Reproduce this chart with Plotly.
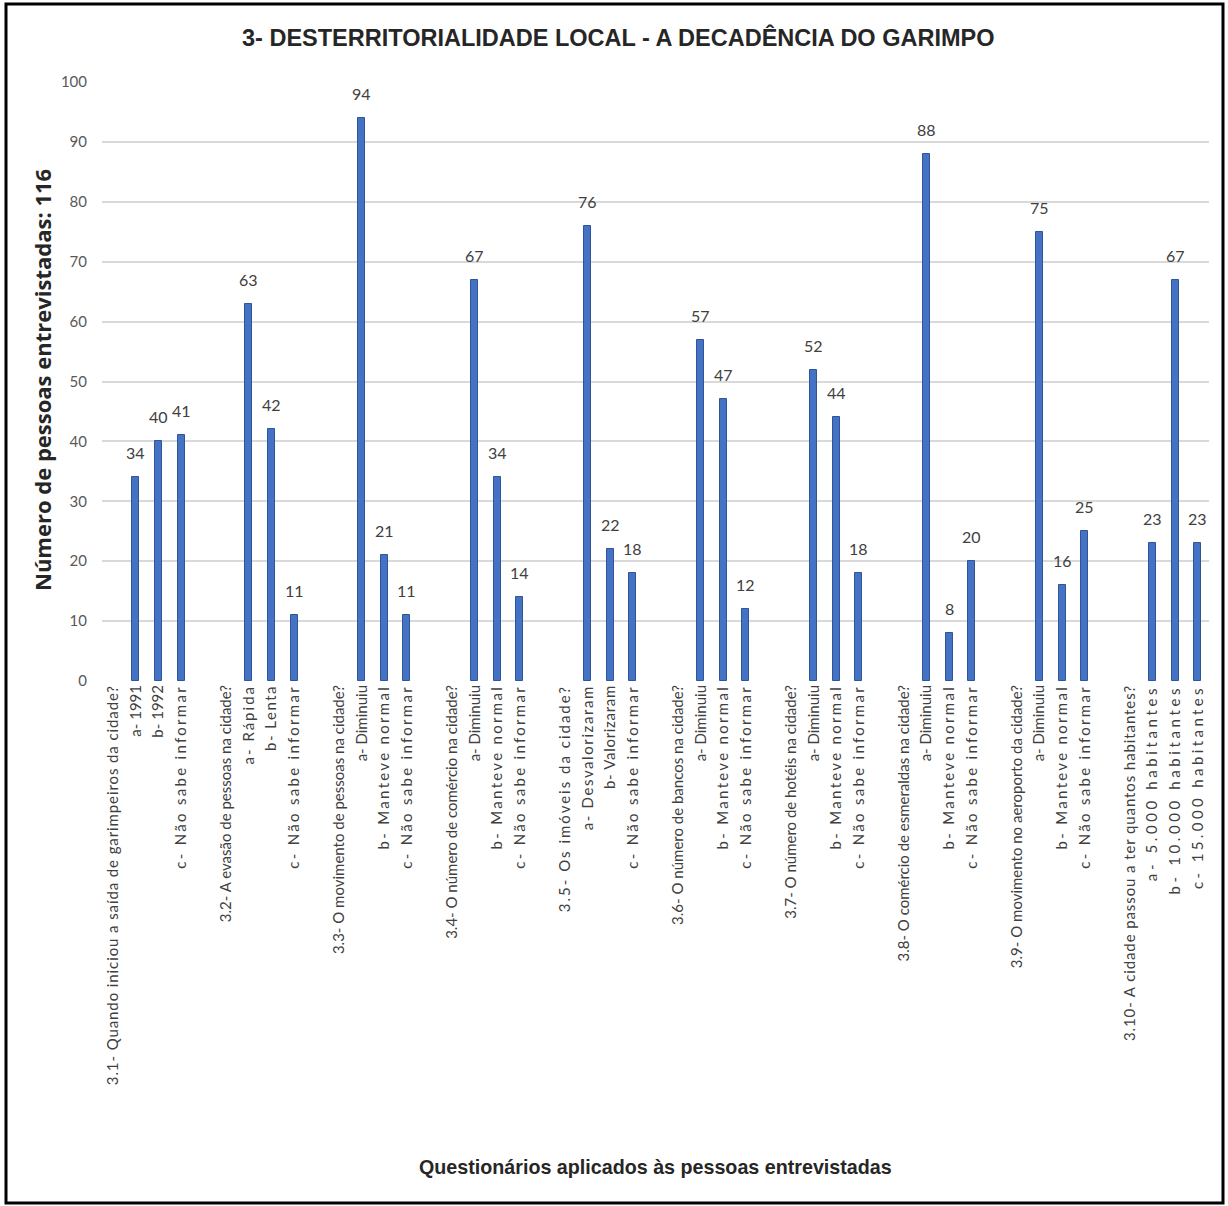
import plotly.graph_objects as go

# Survey questions and the answer options for each one
questions = [
    "3.1- Quando iniciou a saída de garimpeiros da cidade?",
    "3.2- A evasão de pessoas na cidade?",
    "3.3- O movimento de pessoas na cidade?",
    "3.4- O número de comércio na cidade?",
    "3.5- Os imóveis da cidade?",
    "3.6- O número de bancos na cidade?",
    "3.7- O número de hotéis na cidade?",
    "3.8- O comércio de esmeraldas na cidade?",
    "3.9- O movimento no aeroporto da cidade?",
    "3.10- A cidade passou a ter quantos habitantes?",
]
answers = [
    ["a- 1991", "b- 1992", "c- Não sabe informar"],
    ["a- Rápida", "b- Lenta", "c- Não sabe informar"],
    ["a- Diminuiu", "b- Manteve normal", "c- Não sabe informar"],
    ["a- Diminuiu", "b- Manteve normal", "c- Não sabe informar"],
    ["a- Desvalorizaram", "b- Valorizaram", "c- Não sabe informar"],
    ["a- Diminuiu", "b- Manteve normal", "c- Não sabe informar"],
    ["a- Diminuiu", "b- Manteve normal", "c- Não sabe informar"],
    ["a- Diminuiu", "b- Manteve normal", "c- Não sabe informar"],
    ["a- Diminuiu", "b- Manteve normal", "c- Não sabe informar"],
    ["a- 5.000 habitantes", "b- 10.000 habitantes", "c- 15.000 habitantes"],
]
# Number of respondents per answer
counts = [
    [34, 40, 41],
    [63, 42, 11],
    [94, 21, 11],
    [67, 34, 14],
    [76, 22, 18],
    [57, 47, 12],
    [52, 44, 18],
    [88, 8, 20],
    [75, 16, 25],
    [23, 67, 23],
]

TITLE = "3- DESTERRITORIALIDADE LOCAL - A DECADÊNCIA DO GARIMPO"
Y_TITLE = "Número de pessoas entrevistadas: 116"
X_TITLE = "Questionários aplicados às pessoas entrevistadas"

# Extra letter spacing (px) for some axis labels, which are set loosely
LOOSE_LABELS = {
    "3.1- Quando iniciou a saída de garimpeiros da cidade?": 0.9,
    "3.5- Os imóveis da cidade?": 2.0,
    "3.10- A cidade passou a ter quantos habitantes?": 0.9,
    "a- Rápida": 2.0,
    "b- Lenta": 1.5,
    "a- Desvalorizaram": 1.6,
    "b- Valorizaram": 0.7,
    "b- Manteve normal": 2.3,
    "c- Não sabe informar": 2.3,
    "a- 5.000 habitantes": 3.6,
    "b- 10.000 habitantes": 3.6,
    "c- 15.000 habitantes": 3.4,
}


def tick_label(s):
    sp = LOOSE_LABELS.get(s)
    if sp:
        return f'<span style="letter-spacing:{sp}px">{s}</span>'
    return s


# Each question occupies a slot of 5 positions: question, a, b, c, blank
SLOT = 5
tick_vals, tick_text = [], []
bar_x, bar_y = [], []
for g, (q, opts, vals) in enumerate(zip(questions, answers, counts)):
    base = g * SLOT
    tick_vals.append(base)
    tick_text.append(tick_label(q))
    for k, (o, v) in enumerate(zip(opts, vals)):
        tick_vals.append(base + 1 + k)
        tick_text.append(tick_label(o))
        bar_x.append(base + 1 + k)
        bar_y.append(v)

W, H = 1228, 1206
L, R, T, B = 102, 1209, 82, 681


def px(p):
    return (p - L) / (R - L)


def py(p):
    return (B - p) / (B - T)


LABEL_FONT = "Lato, 'Open Sans', sans-serif"
HEAD_FONT = "'Liberation Sans', Arial, sans-serif"

fig = go.Figure(
    go.Bar(
        x=bar_x,
        y=bar_y,
        width=0.31,
        marker=dict(color="#4472C4", line=dict(color="#2F5597", width=1)),
        hoverinfo="x+y",
    )
)

# value labels above each bar
value_labels = [
    dict(
        x=xv, y=yv, xref="x", yref="y", text=str(yv),
        showarrow=False, xanchor="center", yanchor="bottom", yshift=13,
        font=dict(family=LABEL_FONT, size=16, color="#404040"),
    )
    for xv, yv in zip(bar_x, bar_y)
]

fig.update_layout(
    width=W,
    height=H,
    margin=dict(l=L, r=W - R, t=T, b=H - B),
    paper_bgcolor="white",
    plot_bgcolor="white",
    showlegend=False,
    bargap=0,
    xaxis=dict(
        range=[-0.5, len(questions) * SLOT - 1.5],
        tickmode="array",
        tickvals=tick_vals,
        ticktext=tick_text,
        tickangle=-90,
        tickfont=dict(family=LABEL_FONT, size=15, color="#404040"),
        showgrid=False,
        zeroline=False,
        showline=False,
        ticks="",
    ),
    yaxis=dict(
        range=[0, 100],
        dtick=10,
        tickfont=dict(family=LABEL_FONT, size=15, color="#595959"),
        gridcolor="#d9d9d9",
        gridwidth=1.5,
        zeroline=False,
        showline=False,
        ticks="",
        ticklabelstandoff=14,
    ),
    annotations=value_labels + [
        dict(
            text=f"<b>{TITLE}</b>",
            x=px(618), y=py(37), xref="paper", yref="paper",
            showarrow=False, xanchor="center", yanchor="middle",
            font=dict(family=HEAD_FONT, size=23.5, color="#262626"),
        ),
        dict(
            text=f"<b>{X_TITLE}</b>",
            x=px(655), y=py(1167), xref="paper", yref="paper",
            showarrow=False, xanchor="center", yanchor="middle",
            font=dict(family=HEAD_FONT, size=19.7, color="#262626"),
        ),
        dict(
            text=f"<b>{Y_TITLE}</b>",
            x=px(42), y=py(380), xref="paper", yref="paper",
            showarrow=False, xanchor="center", yanchor="middle",
            textangle=-90,
            font=dict(family="'Open Sans', sans-serif", size=22, color="#262626"),
        ),
    ],
    shapes=[
        dict(
            type="rect", xref="paper", yref="paper",
            x0=px(6), x1=px(1223), y0=py(1203), y1=py(4),
            line=dict(color="black", width=3),
            fillcolor="rgba(0,0,0,0)",
        )
    ],
)

fig.write_html("out.html")
